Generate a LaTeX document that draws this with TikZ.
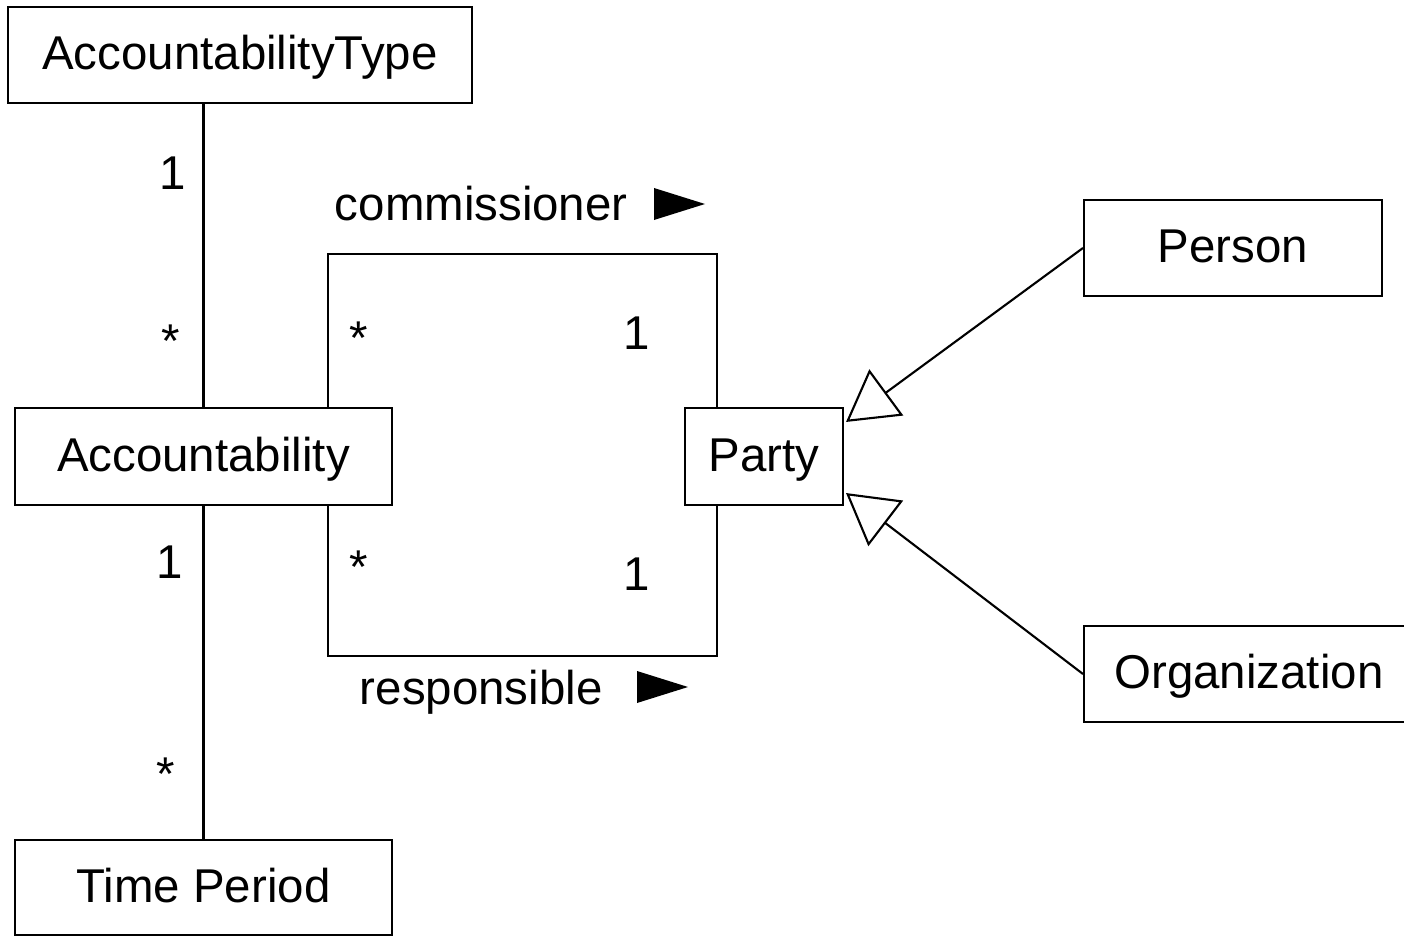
\documentclass[tikz,border=0pt]{standalone}
\usepackage{fontspec}
\setmainfont{Liberation Sans}
\usetikzlibrary{arrows.meta,calc}

\begin{document}
\begin{tikzpicture}[x=0.02cm,y=-0.02cm,line width=1.2pt,
    font=\fontsize{27}{32}\selectfont,
    cls/.style={draw,rectangle,inner sep=0pt,text height=20pt,text depth=3pt},
    mult/.style={anchor=base},
    gen/.style={-{Triangle[open,length=1cm,width=1.14cm]}}]
   \useasboundingbox (0,0) rectangle (1404,936);
   % classes
   \node[cls,minimum width=9.28cm,minimum height=1.92cm] (atype) at (240,55) {AccountabilityType};
   \node[cls,minimum width=7.54cm,minimum height=1.94cm] (acc) at (203.5,456.5) {Accountability};
   \node[cls,minimum width=7.54cm,minimum height=1.9cm] (tp) at (203.5,887.5) {Time Period};
   \node[cls,minimum width=3.16cm,minimum height=1.94cm] (party) at (764,456.5) {Party};
   \node[cls,minimum width=5.96cm,minimum height=1.92cm] (person) at (1233,248) {Person};
   \node[cls,minimum width=6.6cm,minimum height=1.92cm] (org) at (1249,674) {Organization};
   % associations
   \draw (acc.north) -- (acc.north |- atype.south);
   \draw (acc.south) -- (tp.north);
   \coordinate (cl) at ($(acc.north east)+(-65,0)$);
   \coordinate (cr) at ($(party.north west)+(33,0)$);
   \coordinate (rl) at ($(acc.south east)+(-65,0)$);
   \coordinate (rr) at ($(party.south west)+(33,0)$);
   \draw (cl) -- ++(0,-153) -| (cr);
   \draw (rl) -- ++(0,150) -| (rr);
   % generalizations
   \coordinate (ptop) at ($(party.north east)+(2,15)$);
   \coordinate (pbot) at ($(party.south east)+(2,-13)$);
   \draw[gen] (person.west) -- (ptop);
   \draw[gen] (org.west) -- (pbot);
   % multiplicities
   \node[mult] (m1) at (173,190) {1};
   \node[mult] (m2) at (171,357) {*};
   \node[mult] (m3) at (359,354) {*};
   \node[mult] (m4) at (637,349) {1};
   \node[mult] (m5) at (170,578) {1};
   \node[mult] (m6) at (359,583) {*};
   \node[mult] (m7) at (637,590) {1};
   \node[mult] (m8) at (166,790) {*};
   % role names
   \node[anchor=base west] (comm) at (328,220) {commissioner};
   \node[anchor=base west] (resp) at (353,704) {responsible};
   \fill (654,188) -- (705,204) -- (654,220) -- cycle;
   \fill (637,671) -- (688,687) -- (637,703) -- cycle;
\end{tikzpicture}
\end{document}
